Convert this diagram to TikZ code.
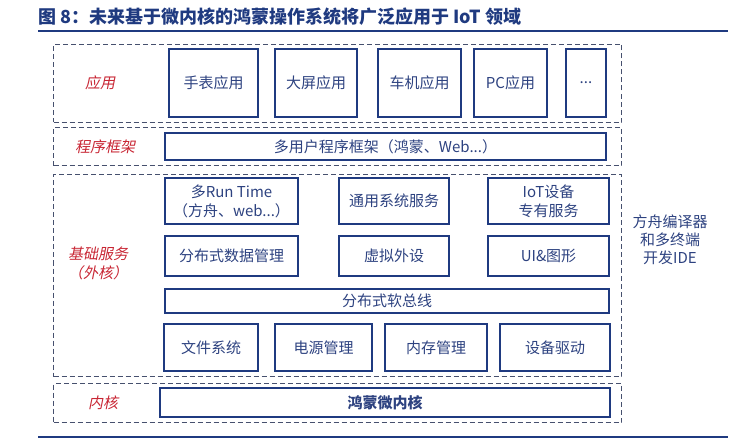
\documentclass[tikz,border=0pt]{standalone}
\usepackage{fontspec}
\setmainfont{Noto Sans CJK SC}
\newfontfamily\slantfont[FakeSlant=0.2]{Noto Sans CJK SC}
\usepackage{xcolor}
\usepackage{tikz}
\usetikzlibrary{positioning}

\definecolor{navy}{RGB}{31,58,128}
\definecolor{inkblue}{RGB}{45,66,128}
\definecolor{dashgray}{RGB}{70,80,110}
\definecolor{tagred}{RGB}{200,38,52}

\begin{document}
\begin{tikzpicture}[x=1pt, y=1pt, node distance = 100pt, auto]
	% % % % % % % % % % % % % % % % % % % % % % % % % % % % % %
	% Define styles
	\tikzstyle{block} = [rectangle, draw=navy, line width=2.4pt, text=inkblue, align=center,
					     inner sep=0pt, font=\fontsize{15}{19}\selectfont]
	\tikzstyle{layer} = [rectangle, draw=dashgray, line width=1pt, dash pattern=on 5pt off 3pt,
					     minimum width=568pt, inner sep=0pt]
	\tikzstyle{tag} = [text=tagred, align=center, font=\slantfont\fontsize{15}{19}\selectfont]
	\tikzstyle{rule} = [draw=navy, line width=2.2pt]

	\useasboundingbox (0,0) rectangle (756,-444);

	% % % % % % % % % % % % % % % % % % % % % % % % % % % % % %
	% Title
	\node [anchor=west, text=navy, inner sep=0pt, font=\bfseries\fontsize{18}{20}\selectfont] (title) at (38,-17)
		{图 8：未来基于微内核的鸿蒙操作系统将广泛应用于 IoT 领域};
	\coordinate (tl) at (38,-31);
	\coordinate (tr) at (728,-31);
	\coordinate (bl) at (38,-437);
	\coordinate (br) at (728,-437);

	% % % % % % % % % % % % % % % % % % % % % % % % % % % % % %
	% Layers
	\node [layer, minimum height=78pt] (app) at (337.5,-83.5) {};
	\node [layer, minimum height=38pt] (frm) at (337.5,-146.5) {};
	\node [layer, minimum height=202pt] (svc) at (337.5,-275.5) {};
	\node [layer, minimum height=39pt] (krn) at (337.5,-403) {};
	% layer tags
	\node [tag] (apptag) at (100,-83) {应用};
	\node [tag] (frmtag) at (105,-147) {程序框架};
	\node [tag] (svctag) at (98,-263) {基础服务\\（外核）};
	\node [tag] (krntag) at (103,-403) {内核};

	% % % % % % % % % % % % % % % % % % % % % % % % % % % % % %
	% Apps
	\node [block, minimum width=89pt, minimum height=68pt] (watch) at (213.5,-83) {手表应用};
	\node [block, minimum width=82pt, minimum height=68pt, right of=watch, node distance=102.5pt] (screen) {大屏应用};
	\node [block, minimum width=83pt, minimum height=68pt, right of=screen, node distance=103.5pt] (car) {车机应用};
	\node [block, minimum width=73pt, minimum height=68pt, right of=car, node distance=91pt] (pc) {PC应用};
	\node [block, minimum width=40pt, minimum height=68pt, right of=pc, node distance=75.5pt] (more) {...};

	% Framework
	\node [block, minimum width=441pt, minimum height=27pt] (multi) at (385.5,-146.5) {多用户程序框架（鸿蒙、Web...）};

	% % % % % % % % % % % % % % % % % % % % % % % % % % % % % %
	% Services row 1
	\node [block, minimum width=133pt, minimum height=46pt] (rt) at (231.5,-201) {多Run Time\\（方舟、web...）};
	\node [block, minimum width=110pt, minimum height=46pt, right of=rt, node distance=162.5pt] (gen) {通用系统服务};
	\node [block, minimum width=121pt, minimum height=46pt, right of=gen, node distance=154.5pt] (iot) {IoT设备\\专有服务};
	% row 2
	\node [block, minimum width=133pt, minimum height=40pt, below of=rt, node distance=55pt] (dist) {分布式数据管理};
	\node [block, minimum width=110pt, minimum height=40pt, below of=gen, node distance=55pt] (virt) {虚拟外设};
	\node [block, minimum width=121pt, minimum height=40pt, below of=iot, node distance=55pt] (ui) {UI\&图形};
	% bus
	\node [block, minimum width=444pt, minimum height=24pt] (bus) at (387,-301) {分布式软总线};
	% row 4
	\node [block, minimum width=94pt, minimum height=47pt] (fs) at (211,-347.5) {文件系统};
	\node [block, minimum width=97pt, minimum height=47pt, right of=fs, node distance=112.5pt] (pwr) {电源管理};
	\node [block, minimum width=102pt, minimum height=47pt, right of=pwr, node distance=112.5pt] (mem) {内存管理};
	\node [block, minimum width=110pt, minimum height=47pt, right of=mem, node distance=119pt] (drv) {设备驱动};

	% Kernel
	\node [block, minimum width=450pt, minimum height=29pt, font=\bfseries\fontsize{15}{19}\selectfont] (micro) at (385,-402.5) {鸿蒙微内核};

	% IDE side note
	\node [text=inkblue, align=center, font=\fontsize{15}{18}\selectfont] (ide) at (670,-240) {方舟编译器\\和多终端\\开发IDE};

	% % % % % % % % % % % % % % % % % % % % % % % % % % % % % %
	% Rules
	\path [rule] (tl) -- (tr);
	\path [rule] (bl) -- (br);
\end{tikzpicture}
\end{document}
